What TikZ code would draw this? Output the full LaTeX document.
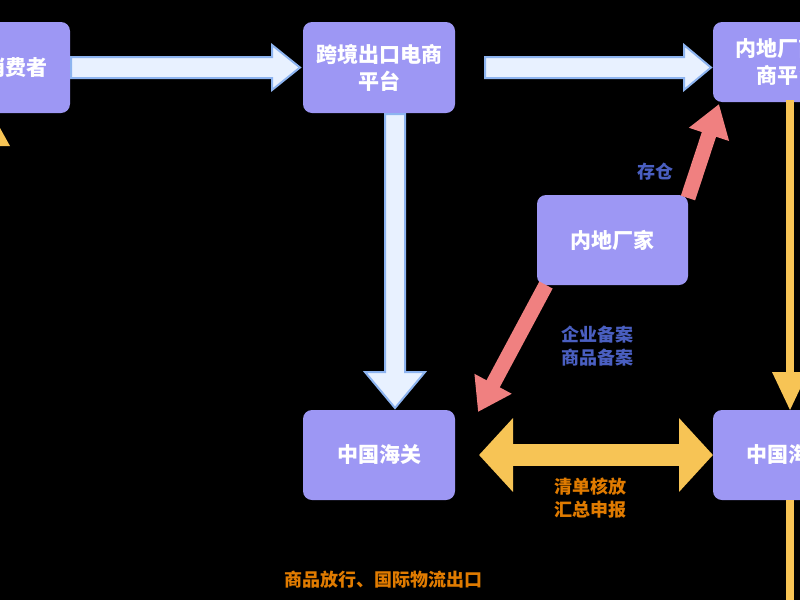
\documentclass[tikz,border=0pt]{standalone}
\usepackage{fontspec}
\setmainfont{Noto Sans CJK SC}
\usetikzlibrary{arrows.meta}
\definecolor{boxc}{HTML}{9D97F4}
\definecolor{blfill}{HTML}{E8F1FF}
\definecolor{bldraw}{HTML}{8DB4F0}
\definecolor{redc}{HTML}{F08080}
\definecolor{yel}{HTML}{F7C455}
\definecolor{lblue}{HTML}{4A5FC1}
\definecolor{lorange}{HTML}{E07B00}
\begin{document}
\begin{tikzpicture}[x=1pt,y=-1pt,
 box/.style={fill=boxc,rounded corners=9pt,text=white,font=\bfseries\fontsize{21}{27}\selectfont,align=center,inner sep=0pt},
 hollow/.style={fill=blfill,draw=bldraw,line width=2pt,line join=miter},
 redarr/.style={draw=redc,line width=15pt,-{Triangle[length=32pt,width=40pt]}},
 yelarr/.style={draw=yel,line width=22pt,{Triangle[length=34pt,width=72pt]}-{Triangle[length=34pt,width=72pt]}},
 lab/.style={font=\bfseries\fontsize{18}{23}\selectfont,align=center}]
\fill[black] (0,0) rectangle (800,600);
\clip (0,0) rectangle (800,600);
\useasboundingbox (0,0) rectangle (800,600);
% boxes
\node[box,minimum width=150pt,minimum height=91pt] (cons) at (-5,67.5) {境外消费者};
\node[box,minimum width=152pt,minimum height=91pt] (plat) at (379,67.5) {跨境出口电商\\平台};
\node[box,minimum width=150pt,minimum height=80pt] (dom) at (788,62) {内地厂商电\\商平台};
\node[box,minimum width=151pt,minimum height=90pt] (fac) at (612.5,240) {内地厂家};
\node[box,minimum width=152pt,minimum height=90pt] (cus) at (379,455) {中国海关};
\node[box,minimum width=150pt,minimum height=90pt] (cus2) at (788,455) {中国海关};
% yellow lines
\draw[yel,line width=8pt] (790,100) -- (790,380);
\fill[yel] (772,372) -- (808,372) -- (790,410) -- cycle;
\draw[yel,line width=8pt] (790,500) -- (790,600);
\fill[yel] (-10,146) -- (10,146) -- (0,128) -- cycle;
% hollow blue arrows
\draw[hollow] (71,57) -- (272,57) -- (272,45) -- (300,67.5) -- (272,90) -- (272,78) -- (71,78) -- cycle;
\draw[hollow] (485,57) -- (684,57) -- (684,45) -- (711,67.5) -- (684,90) -- (684,78) -- (485,78) -- cycle;
\draw[hollow] (385,114) -- (385,372) -- (365,372) -- (395,408) -- (425,372) -- (405,372) -- (405,114) -- cycle;
% red arrows
\draw[redarr] (688,198) -- (719,104);
\draw[redarr] (546,285) -- (478,412);
% yellow double arrow
\draw[yelarr] (479,455) -- (713,455);
% labels
\node[lab,text=lblue] (l1) at (655,172) {存仓};
\node[lab,text=lblue] (l2) at (597,346) {企业备案\\商品备案};
\node[lab,text=lorange] (l3) at (590,498) {清单核放\\汇总申报};
\node[lab,text=lorange] (l4) at (383,580) {商品放行、国际物流出口};
\end{tikzpicture}
\end{document}
